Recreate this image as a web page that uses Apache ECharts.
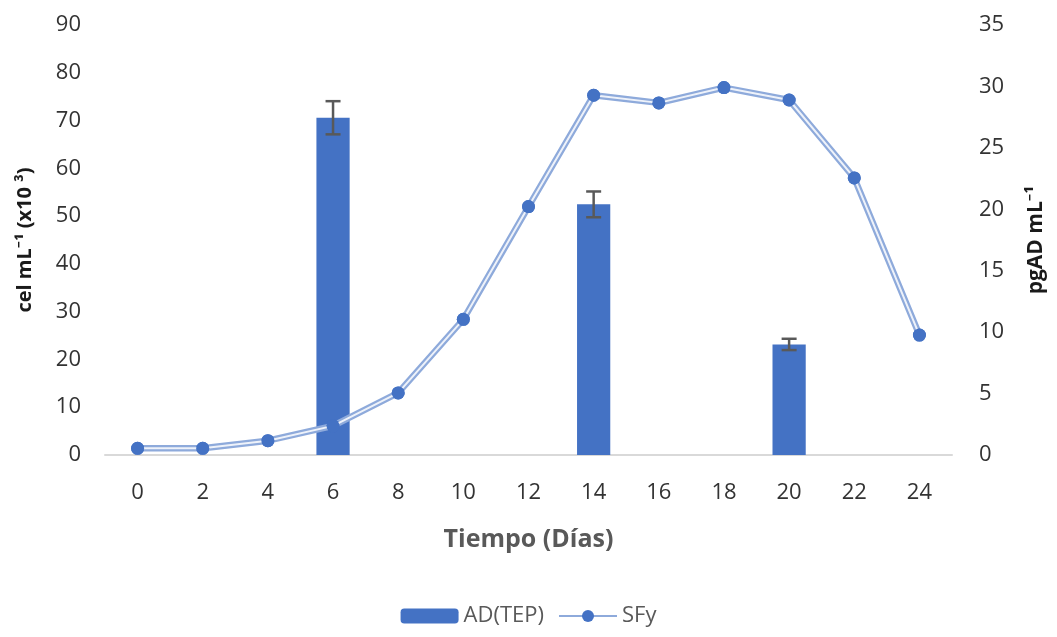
<!DOCTYPE html>
<html><head><meta charset="utf-8">
<script src="https://cdn.jsdelivr.net/npm/echarts@6/dist/echarts.min.js"></script>
<style>html,body{margin:0;padding:0;background:#fff}#c{width:1057px;height:637px}</style>
</head><body><div id="c"></div>
<script>
// Data
const days = ['0','2','4','6','8','10','12','14','16','18','20','22','24'];
// SFy cell density (cel mL-1 x10^3), left axis
const sfyCells = [1.4, 1.4, 3.0, 6.1, 13.0, 28.4, 52.0, 75.3, 73.7, 76.9, 74.3, 58.0, 25.1];
// AD(TEP) concentration (pgAD mL-1), right axis
const adValues = [null, null, null, 27.45, null, null, null, 20.4, null, null, 9.0, null, null];
const adErrors = [null, null, null, 1.35, null, null, null, 1.05, null, null, 0.46, null, null];
const leftAxis = {min: 0, max: 90, interval: 10};
const rightAxis = {min: 0, max: 35, interval: 5};

const FONT = '"Open Sans", "Noto Sans", sans-serif';
const errData = [];
adValues.forEach((v, i) => { if (v != null) errData.push([i, v - adErrors[i], v + adErrors[i]]); });

const chart = echarts.init(document.getElementById('c'));
chart.setOption({
  animation: false,
  backgroundColor: '#ffffff',
  grid: {left: 105, right: 105, top: 25, bottom: 182, containLabel: false},
  legend: {
    bottom: 5, left: 'center',
    data: ['AD(TEP)', 'SFy'],
    itemWidth: 58, itemHeight: 15, itemGap: 14,
    textStyle: {fontFamily: FONT, fontSize: 22, color: '#595959'}
  },
  xAxis: {
    type: 'category', data: days,
    name: 'Tiempo (Días)', nameLocation: 'middle', nameGap: 72,
    nameTextStyle: {fontFamily: FONT, fontSize: 25, fontWeight: 'bold', color: '#595959'},
    axisLine: {lineStyle: {color: '#d9d9d9', width: 2}},
    axisTick: {show: false},
    axisLabel: {fontFamily: FONT, fontSize: 22, color: '#333333', margin: 27},
    splitLine: {show: false}
  },
  yAxis: [
    {
      type: 'value', position: 'left', min: leftAxis.min, max: leftAxis.max, interval: leftAxis.interval,
      name: 'cel mL⁻¹ (x10 ³)', nameLocation: 'middle', nameGap: 70, nameRotate: 90,
      nameTextStyle: {fontFamily: FONT, fontSize: 20, fontWeight: 'bold', color: '#1a1a1a'},
      axisLine: {show: false}, axisTick: {show: false}, splitLine: {show: false},
      axisLabel: {fontFamily: FONT, fontSize: 22, color: '#333333', margin: 24}
    },
    {
      type: 'value', position: 'right', min: rightAxis.min, max: rightAxis.max, interval: rightAxis.interval,
      name: 'pgAD mL⁻¹', nameLocation: 'middle', nameGap: 74, nameRotate: 90,
      nameTextStyle: {fontFamily: FONT, fontSize: 21, fontWeight: 'bold', color: '#1a1a1a'},
      axisLine: {show: false}, axisTick: {show: false}, splitLine: {show: false},
      axisLabel: {fontFamily: FONT, fontSize: 22, color: '#333333', margin: 27}
    }
  ],
  series: [
    {
      name: 'AD(TEP)', type: 'bar', yAxisIndex: 1, data: adValues,
      barWidth: '51%', itemStyle: {color: '#4472C4'}, z: 1
    },
    {
      name: 'err', type: 'custom', yAxisIndex: 1, data: errData, z: 5, silent: true,
      encode: {x: 0, y: [1, 2]},
      renderItem: function (params, api) {
        const x = api.value(0);
        const lo = api.coord([x, api.value(1)]);
        const hi = api.coord([x, api.value(2)]);
        const w = 7.5;
        const st = {stroke: '#595959', lineWidth: 2.5};
        return {type: 'group', children: [
          {type: 'line', shape: {x1: lo[0], y1: lo[1], x2: hi[0], y2: hi[1]}, style: st},
          {type: 'line', shape: {x1: lo[0] - w, y1: lo[1], x2: lo[0] + w, y2: lo[1]}, style: st},
          {type: 'line', shape: {x1: hi[0] - w, y1: hi[1], x2: hi[0] + w, y2: hi[1]}, style: st}
        ]};
      }
    },
    {
      name: 'SFy', type: 'line', yAxisIndex: 0, data: sfyCells, z: 2,
      symbol: 'circle', symbolSize: 13,
      itemStyle: {color: '#4472C4'},
      lineStyle: {color: '#8eaadb', width: 6.5}
    },
    {
      name: 'SFy-inner', type: 'line', yAxisIndex: 0, data: sfyCells, z: 3, silent: true,
      symbol: 'none', lineStyle: {color: '#ffffff', width: 2, opacity: 0.85}
    },
    {
      name: 'SFy-dots', type: 'line', yAxisIndex: 0, data: sfyCells, z: 4, silent: true,
      symbol: 'circle', symbolSize: 13, showSymbol: true,
      itemStyle: {color: '#4472C4'}, lineStyle: {width: 0, opacity: 0}
    }
  ]
});
</script>
</body></html>
